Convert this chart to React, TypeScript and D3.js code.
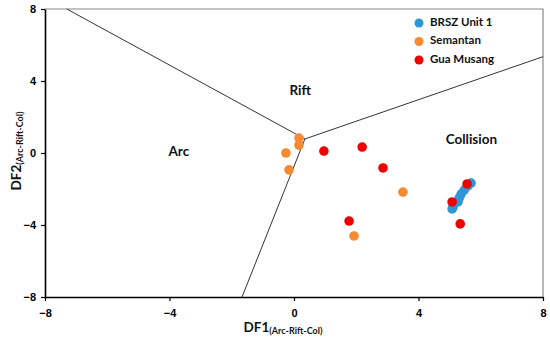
import React, { useRef, useEffect } from "react";
import * as d3 from "d3";

// discriminant field boundaries (DF1, DF2)
const triple: [number, number] = [0.35, 0.78];
const boundaryEnds: [number, number][] = [[-7.3, 8], [8, 5.35], [-1.67, -8]];

const brszX = [5.69, 5.59, 5.47, 5.37, 5.31, 5.27, 5.11, 5.08];
const brszY = [-1.67, -1.83, -2.06, -2.28, -2.5, -2.72, -3.0, -3.11];
const semantanX = [0.16, 0.16, -0.26, -0.16, 1.93, 3.5];
const semantanY = [0.83, 0.44, 0.0, -0.94, -4.61, -2.17];
const musangX = [0.96, 2.19, 2.86, 1.77, 5.56, 5.08, 5.34];
const musangY = [0.11, 0.33, -0.83, -3.78, -1.72, -2.72, -3.94];

const ticks = [-8, -4, 0, 4, 8];

const regions = [
  { name: "Rift", x: 0.2, y: 3.4 },
  { name: "Arc", x: -3.7, y: 0 },
  { name: "Collision", x: 5.7, y: 0.7 },
];

const series = [
  { name: "BRSZ Unit 1", color: "#2f97d6", xs: brszX, ys: brszY },
  { name: "Semantan", color: "#f58a33", xs: semantanX, ys: semantanY },
  { name: "Gua Musang", color: "#f00000", xs: musangX, ys: musangY },
];

const App = () => {
  const ref = useRef<SVGSVGElement>(null);

  useEffect(() => {
    const svg = d3.select(ref.current);
    svg.selectAll("*").remove();

    const x = d3.scaleLinear().domain([-8, 8]).range([45, 543]);
    const y = d3.scaleLinear().domain([-8, 8]).range([297, 9]);

    // frame top/right
    svg.append("path")
      .attr("d", `M${x(-8)},${y(8)}H${x(8)}V${y(-8)}`)
      .attr("fill", "none").attr("stroke", "#888").attr("stroke-width", 1.2);

    // boundaries
    boundaryEnds.forEach(e => {
      svg.append("line")
        .attr("x1", x(triple[0])).attr("y1", y(triple[1]))
        .attr("x2", x(e[0])).attr("y2", y(e[1]))
        .attr("stroke", "#333").attr("stroke-width", 1);
    });

    const xAxis = svg.append("g").attr("transform", `translate(0,${y(-8)})`)
      .call(d3.axisBottom(x).tickValues(ticks).tickSize(4).tickSizeOuter(0).tickPadding(8));
    const yAxis = svg.append("g").attr("transform", `translate(${x(-8)},0)`)
      .call(d3.axisLeft(y).tickValues(ticks).tickSize(4).tickSizeOuter(0).tickPadding(5));
    [xAxis, yAxis].forEach(a => {
      a.select(".domain").attr("stroke", "#000").attr("stroke-width", 1.6);
      a.selectAll(".tick line").attr("stroke", "#000").attr("stroke-width", 1.2);
      a.selectAll("text").attr("font-family", "Liberation Sans, Arial, sans-serif")
        .attr("font-weight", "bold").attr("font-size", 11).attr("fill", "#000");
    });

    // points
    series.forEach(s => {
      svg.append("g").selectAll("circle").data(s.xs).join("circle")
        .attr("cx", d => x(d)).attr("cy", (d, i) => y(s.ys[i]))
        .attr("r", 4.8).attr("fill", s.color);
    });

    const font = "Lato, 'Open Sans', sans-serif";

    regions.forEach(r => {
      svg.append("text").attr("x", x(r.x)).attr("y", y(r.y))
        .attr("text-anchor", "middle").attr("dominant-baseline", "middle")
        .attr("font-family", font).attr("font-weight", "bold").attr("font-size", 13.5)
        .attr("fill", "#111").text(r.name);
    });

    // legend
    series.forEach((s, i) => {
      const ly = 23 + i * 18.5;
      svg.append("circle").attr("cx", 419).attr("cy", ly).attr("r", 4.5).attr("fill", s.color);
      svg.append("text").attr("x", 430).attr("y", ly).attr("dominant-baseline", "middle")
        .attr("font-family", font).attr("font-weight", "bold").attr("font-size", 11.5)
        .attr("fill", "#111").text(s.name);
    });

    // axis titles
    const xt = svg.append("text").attr("x", 283).attr("y", 332).attr("text-anchor", "middle")
      .attr("font-family", font).attr("font-weight", "bold").attr("fill", "#111");
    xt.append("tspan").attr("font-size", 13.5).text("DF1");
    xt.append("tspan").attr("font-size", 9).attr("dy", 2).text("(Arc-Rift-Col)");

    const yt = svg.append("text").attr("transform", `translate(21,${y(0) - 2}) rotate(-90)`)
      .attr("text-anchor", "middle")
      .attr("font-family", font).attr("font-weight", "bold").attr("fill", "#111");
    yt.append("tspan").attr("font-size", 13.5).text("DF2");
    yt.append("tspan").attr("font-size", 9).attr("dy", 2).text("(Arc-Rift-Col)");
  }, []);

  return (
    <svg ref={ref} width={550} height={341}
      style={{ position: "absolute", left: 0, top: 0, background: "#fff" }} />
  );
};

export default App;
